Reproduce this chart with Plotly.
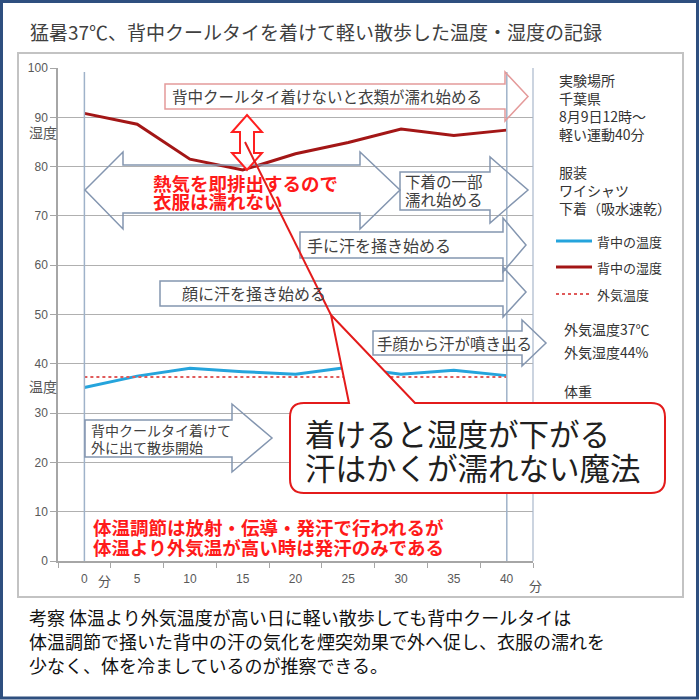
import plotly.graph_objects as go

# ---- data ----
minutes = ["0", "5", "10", "15", "20", "25", "30", "35", "40"]
back_humidity = [90.8, 88.6, 81.5, 79.3, 82.6, 84.9, 87.6, 86.3, 87.4]
back_temp = [35.2, 37.5, 39.1, 38.4, 37.9, 39.3, 37.9, 38.7, 37.6]
outside_temp = [37.3, 37.3, 37.3, 37.3, 37.3, 37.3, 37.3, 37.3, 37.3]
y_ticks = [0, 10, 20, 30, 40, 50, 60, 70, 80, 90, 100]

FONT = "Noto Sans CJK JP"

# ---- layout geometry (pixels) ----
L, T, W, H = 58, 68, 475, 493


def X(px):
    return (px - L) / W


def Y(py):
    return (T + H - py) / H


def path(pts, close=True):
    s = "M " + " L ".join(f"{X(a):.5f},{Y(b):.5f}" for a, b in pts)
    return s + (" Z" if close else "")


def rarrow(x0, x1, yt, yb, ht, hb, tip):
    mid = (ht + hb) / 2
    return path([(x0, yt), (x1, yt), (x1, ht), (tip, mid), (x1, hb), (x1, yb), (x0, yb)])


fig = go.Figure()
fig.add_trace(go.Scatter(x=minutes, y=back_temp, mode="lines", name="背中の温度",
                         line=dict(color="#25a4dc", width=3)))
fig.add_trace(go.Scatter(x=minutes, y=back_humidity, mode="lines", name="背中の湿度",
                         line=dict(color="#a31616", width=3)))
fig.add_trace(go.Scatter(x=minutes, y=outside_temp, mode="lines", name="外気温度",
                         line=dict(color="#e05a5a", width=2, dash="dot")))

shapes = []
annotations = []

# outer frame and inner box
shapes.append(dict(type="rect", xref="paper", yref="paper", x0=X(1.5), x1=X(697.5), y0=Y(1.5), y1=Y(698),
                   line=dict(color="#2e4f7f", width=3), layer="below"))
shapes.append(dict(type="rect", xref="paper", yref="paper", x0=X(18), x1=X(683), y0=Y(53), y1=Y(597),
                   line=dict(color="#c3c3c3", width=2), layer="below"))
# plot right border
shapes.append(dict(type="line", xref="paper", yref="paper", x0=1, x1=1, y0=0, y1=1,
                   line=dict(color="#a9b8cc", width=1.2)))
# vertical reference lines at 0 and 40 minutes
for cx in [84.4, 506.8]:
    shapes.append(dict(type="line", xref="paper", yref="paper", x0=X(cx), x1=X(cx), y0=0, y1=Y(72),
                       line=dict(color="#9fb2c9", width=1.5)))

gray = "#8496b0"
# big double-headed arrow
shapes.append(dict(type="path", xref="paper", yref="paper", line=dict(color=gray, width=1.5),
                   path=path([(85, 190), (123, 152), (123, 165), (360, 165), (360, 152), (400, 190),
                              (360, 229), (360, 213), (123, 213), (123, 229)])))
# top arrow
shapes.append(dict(type="path", xref="paper", yref="paper", line=dict(color="#e49a9a", width=1.5),
                   path=rarrow(165, 505, 84, 109, 72, 121, 528)))
# 下着の一部
shapes.append(dict(type="path", xref="paper", yref="paper", line=dict(color=gray, width=1.5),
                   path=rarrow(400, 490, 172, 210, 157, 223, 528)))
# 手に汗
shapes.append(dict(type="path", xref="paper", yref="paper", line=dict(color=gray, width=1.5),
                   path=rarrow(300, 503, 232, 258, 218, 272, 526)))
# 顔に汗
shapes.append(dict(type="path", xref="paper", yref="paper", line=dict(color=gray, width=1.5),
                   path=rarrow(160, 503, 281, 306, 267, 317, 526)))
# 手顔から
shapes.append(dict(type="path", xref="paper", yref="paper", line=dict(color=gray, width=1.5),
                   path=rarrow(373, 522, 331, 355, 320, 366, 546)))
# 背中クールタイ着けて
shapes.append(dict(type="path", xref="paper", yref="paper", line=dict(color=gray, width=1.5),
                   path=rarrow(85, 232, 420, 457, 404, 472, 272)))
# red double vertical arrow
shapes.append(dict(type="path", xref="paper", yref="paper", line=dict(color="#ff2020", width=2),
                   fillcolor="rgba(255,255,255,0.85)",
                   path=path([(247, 115), (262, 132), (254, 132), (254, 153), (262, 153), (247, 170),
                              (232, 153), (240, 153), (240, 132), (232, 132)])))
# pointer line
shapes.append(dict(type="path", xref="paper", yref="paper", line=dict(color="#e31b1b", width=2),
                   path=path([(245, 142), (331, 315)], close=False)))
# callout box with pointer
cx0, cy0, cx1, cy1, r = 290, 403, 665, 493, 14
callout = (f"M {X(cx0 + r):.5f},{Y(cy0):.5f} L {X(349):.5f},{Y(cy0):.5f} L {X(331):.5f},{Y(315):.5f} "
           f"L {X(415):.5f},{Y(cy0):.5f} L {X(cx1 - r):.5f},{Y(cy0):.5f} "
           f"Q {X(cx1):.5f},{Y(cy0):.5f} {X(cx1):.5f},{Y(cy0 + r):.5f} "
           f"L {X(cx1):.5f},{Y(cy1 - r):.5f} Q {X(cx1):.5f},{Y(cy1):.5f} {X(cx1 - r):.5f},{Y(cy1):.5f} "
           f"L {X(cx0 + r):.5f},{Y(cy1):.5f} Q {X(cx0):.5f},{Y(cy1):.5f} {X(cx0):.5f},{Y(cy1 - r):.5f} "
           f"L {X(cx0):.5f},{Y(cy0 + r):.5f} Q {X(cx0):.5f},{Y(cy0):.5f} {X(cx0 + r):.5f},{Y(cy0):.5f} Z")
shapes.append(dict(type="path", xref="paper", yref="paper", line=dict(color="#e31b1b", width=2),
                   fillcolor="white", path=callout))

# legend sample lines
shapes.append(dict(type="line", xref="paper", yref="paper", x0=X(556), x1=X(592), y0=Y(241), y1=Y(241),
                   line=dict(color="#25a4dc", width=3)))
shapes.append(dict(type="line", xref="paper", yref="paper", x0=X(556), x1=X(592), y0=Y(267), y1=Y(267),
                   line=dict(color="#a31616", width=3)))
shapes.append(dict(type="line", xref="paper", yref="paper", x0=X(556), x1=X(592), y0=Y(294), y1=Y(294),
                   line=dict(color="#e05a5a", width=2, dash="dot")))


def txt(px, py, text, size=14, color="#333333", bold=False, anchor="left"):
    t = f"<b>{text}</b>" if bold else text
    annotations.append(dict(xref="paper", yref="paper", x=X(px), y=Y(py), text=t, showarrow=False,
                            xanchor=anchor, yanchor="middle", align="left",
                            font=dict(family=FONT, size=size, color=color)))


txt(28, 31, "猛暑37℃、背中クールタイを着けて軽い散歩した温度・湿度の記録", 19, "#404040")
txt(27, 132, "湿度", 14, "#555555")
txt(27, 386, "温度", 14, "#555555")
txt(96, 580, "分", 13, "#555555")
txt(527, 585, "分", 13, "#555555")

txt(170, 96, "背中クールタイ着けないと衣類が濡れ始める", 15.5, "#404040")
txt(151, 183, "熱気を即排出するので", 18.5, "#ff1a1a", bold=True)
txt(151, 201, "衣服は濡れない", 18.5, "#ff1a1a", bold=True)
txt(403, 181, "下着の一部", 15.5, "#404040")
txt(403, 199, "濡れ始める", 15.5, "#404040")
txt(305, 245, "手に汗を掻き始める", 16, "#404040")
txt(180, 293, "顔に汗を掻き始める", 16, "#404040")
txt(375, 343, "手顔から汗が噴き出る", 15.5, "#404040")
txt(89, 430, "背中クールタイ着けて", 14, "#404040")
txt(89, 447, "外に出て散歩開始", 14, "#404040")
txt(303, 433, "着けると湿度が下がる", 30.5, "#202020")
txt(303, 467, "汗はかくが濡れない魔法", 30.5, "#202020")
txt(91, 527, "体温調節は放射・伝導・発汗で行われるが", 18.5, "#ff1a1a", bold=True)
txt(91, 547, "体温より外気温が高い時は発汗のみである", 18.5, "#ff1a1a", bold=True)

# right panel
for py, s in [(80, "実験場所"), (98, "千葉県"), (116, "8月9日12時～"), (134, "軽い運動40分"),
              (172, "服装"), (190, "ワイシャツ"), (208, "下着（吸水速乾）")]:
    txt(557, py, s, 14, "#333333")
txt(595, 241, "背中の温度", 13, "#333333")
txt(595, 267, "背中の湿度", 13, "#333333")
txt(595, 294, "外気温度", 13, "#333333")
txt(562, 329, "外気温度37℃", 14, "#333333")
txt(562, 352, "外気湿度44%", 14, "#333333")
txt(562, 391, "体重", 14, "#333333")

# bottom comment
txt(27, 617, "考察 体温より外気温度が高い日に軽い散歩しても背中クールタイは", 18, "#111111")
txt(27, 641, "体温調節で掻いた背中の汗の気化を煙突効果で外へ促し、衣服の濡れを", 18, "#111111")
txt(27, 665, "少なく、体を冷ましているのが推察できる。", 18, "#111111")

fig.update_layout(
    width=700, height=700,
    margin=dict(l=L, r=700 - L - W, t=T, b=700 - T - H),
    paper_bgcolor="white", plot_bgcolor="white",
    showlegend=False,
    shapes=shapes, annotations=annotations,
    font=dict(family=FONT),
)
fig.update_xaxes(type="category", tickson="boundaries", ticks="outside", ticklen=5,
                 tickcolor="#a6a6a6", showline=True, linecolor="#a6a6a6", linewidth=1.5,
                 showgrid=False, ticklabelstandoff=6,
                 tickfont=dict(family="Liberation Sans", size=12, color="#595959"),
                 range=[-0.5, 8.5])
fig.update_yaxes(range=[0, 100], tickvals=y_ticks, ticks="outside", ticklen=6, tickcolor="#a6a6a6",
                 showline=True, linecolor="#a6a6a6", linewidth=1.5, gridcolor="#b0b0b0", gridwidth=1.3,
                 zeroline=False,
                 tickfont=dict(family="Liberation Sans", size=12, color="#595959"))

fig.write_html("out.html", config={"displayModeBar": False},
               post_script="document.body.style.margin='0';")
